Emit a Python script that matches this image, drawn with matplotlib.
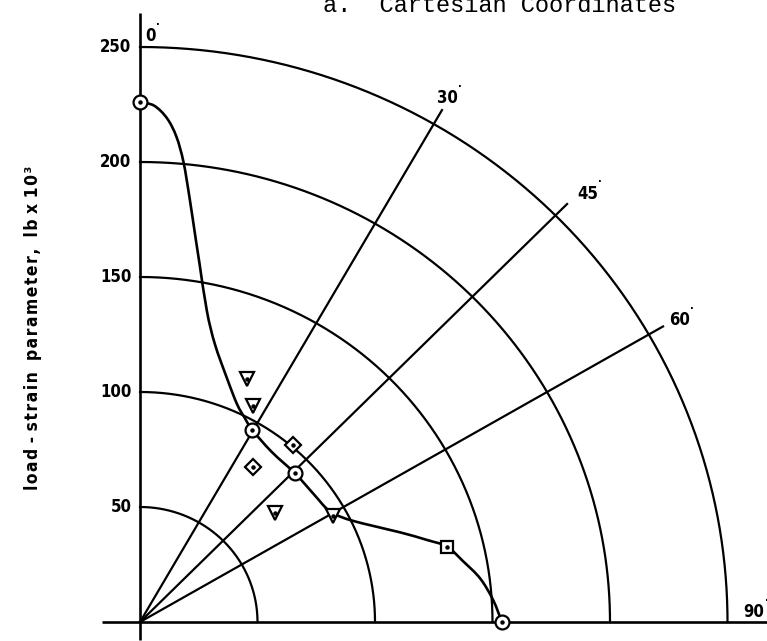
import numpy as np
import matplotlib
matplotlib.use("Agg")
import matplotlib.pyplot as plt
from matplotlib.path import Path
from matplotlib.patches import PathPatch

# grid of the quarter-polar chart
radii = [50, 100, 150, 200, 250]
ray_angles = [30, 45, 60]          # degrees from the vertical axis
angle_labels = ["0", "30", "45", "60", "90"]
radius_labels = ["50", "100", "150", "200", "250"]

# fitted curve
curve_x = [0, 6, 11.5, 15.5, 18.5, 21, 23.5, 25.3, 28.5, 31.9, 37, 41.3, 44.7, 47.7, 56, 66,
           74, 80, 86, 95, 110.6, 122, 130.6, 137.4, 144.7, 150.2, 154]
curve_y = [226, 224.5, 219, 211, 200, 185, 168, 156, 135, 120.7, 106, 94.7, 88.5, 83.6, 74,
           64.6, 55.5, 48.8, 45.5, 42.8, 39, 35.7, 32.8, 26.5, 19, 9.7, 0]

# measured points
circle_x = [0, 47.7, 66, 154]
circle_y = [226, 83.6, 64.6, 0]
tri_x = [45.5, 48, 57.4, 82]
tri_y = [105.6, 93.8, 47.5, 46.2]
diam_x = [65, 48]
diam_y = [77, 67.3]
sq_x = [130.6]
sq_y = [32.8]

fig = plt.figure(figsize=(7.67, 6.41), dpi=100)
ax = fig.add_axes([0, 0, 1, 1])
ax.set_xlim(-140 / 2.35, (767 - 140) / 2.35)
ax.set_ylim((622 - 641) / 2.30, 622 / 2.30)
ax.axis("off")

lw = 1.6
# axes lines
ax.plot([-16.2, 270], [0, 0], color="black", lw=1.9, solid_capstyle="butt")
ax.plot([0, 0], [-8, 265], color="black", lw=1.9, solid_capstyle="butt")

# arcs
t = np.linspace(0, np.pi / 2, 300)
for r in radii:
    ax.plot(r * np.sin(t), r * np.cos(t), color="black", lw=lw)

# rays
for a in ray_angles:
    ar = np.radians(a)
    ax.plot([0, 257 * np.sin(ar)], [0, 257 * np.cos(ar)], color="black", lw=lw)

# smooth curve (Catmull-Rom through the read points)
P = np.column_stack([curve_x, curve_y])
Pe = np.vstack([P[0], P, P[-1]])
verts = [P[0]]
codes = [Path.MOVETO]
for i in range(1, len(Pe) - 2):
    p0, p1, p2, p3 = Pe[i - 1], Pe[i], Pe[i + 1], Pe[i + 2]
    verts += [p1 + (p2 - p0) / 6, p2 - (p3 - p1) / 6, p2]
    codes += [Path.CURVE4] * 3
ax.add_patch(PathPatch(Path(verts, codes), fill=False, lw=1.9, edgecolor="black"))

# markers
mk = dict(linestyle="none", markerfacecolor="white", markeredgecolor="black",
          markeredgewidth=1.6, zorder=5)
ax.plot(circle_x, circle_y, marker="o", markersize=10, **mk)
ax.plot(tri_x, tri_y, marker="v", markersize=10, **mk)
ax.plot(diam_x, diam_y, marker="D", markersize=8, **mk)
ax.plot(sq_x, sq_y, marker="s", markersize=8.5, **mk)
for xs, ys in [(circle_x, circle_y), (tri_x, tri_y), (diam_x, diam_y), (sq_x, sq_y)]:
    ax.plot(xs, ys, linestyle="none", marker="o", markersize=2.2, color="black", zorder=6)

lab = dict(fontsize=12, fontweight="bold", fontstretch="condensed", family="DejaVu Sans")

# radius labels
for r, s in zip(radii, radius_labels):
    ax.text(-3.6, r, s, ha="right", va="center", **lab)

# angle labels
angle_pos = [(4.3, 254.8), (130.9, 228), (190.4, 186.3), (229.4, 131.3), (261.2, 4.3)]
for (x, y), s in zip(angle_pos, angle_labels):
    ax.text(x, y, s, ha="center", va="center", **lab)
    ax.text(x + 3.2 + 2.2 * (len(s) - 1), y + 4.8, "·", ha="center", va="center",
            fontsize=7, fontweight="bold")

hs = "\u200a"
words = ["load", "-", "strain", "", "parameter,", "", "lb", "x", "10³"]
ylab = " ".join(hs.join(w) for w in words)
ax.text(-45.5, 128, ylab, rotation=90, ha="center", va="center",
        **{**lab, "fontsize": 12.5})

fig.text(323 / 767, 1 - 12 / 641, "a.  Cartesian Coordinates", family="Liberation Mono",
         fontsize=17, ha="left", va="baseline")

fig.savefig("out.png", dpi=100)
